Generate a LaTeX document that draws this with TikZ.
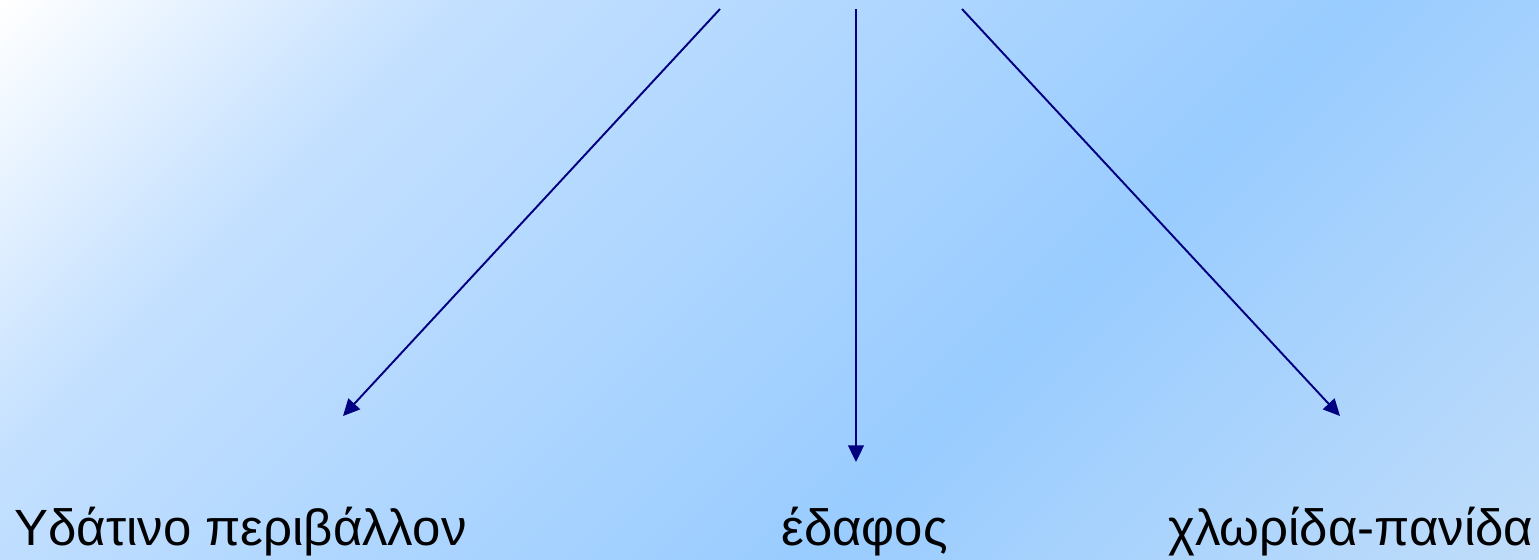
\documentclass[tikz,border=0pt]{standalone}
\usepackage{fontspec}
\setmainfont{Liberation Sans}
\usepackage{tikz}
\usetikzlibrary{arrows.meta, positioning}

\definecolor{skypale}{RGB}{196,224,255}
\definecolor{skyblue}{RGB}{153,204,255}
\definecolor{skylight}{RGB}{192,221,250}
\definecolor{arrowblue}{RGB}{0,0,128}
\pgfdeclarehorizontalshading{skyshade}{100bp}{color(0bp)=(white); color(14.6bp)=(white); color(25bp)=(skypale); color(46bp)=(skyblue); color(63bp)=(skylight); color(100bp)=(skylight)}

\begin{document}
\begin{tikzpicture}[
        x=0.02cm, y=-0.02cm,
        label/.style={anchor=base west, inner sep=0pt, font=\fontsize{29}{35}\selectfont},
        link/.style={draw=arrowblue, line width=1.1pt, -{Triangle[length=9.5pt, width=9pt]}}
    ]
        % background
        \useasboundingbox (0,0) rectangle (1539,559);
        \begin{scope}
            \clip (0,0) rectangle (1539,559);
            \shade[shading=skyshade, shading angle=-45] (0,0) rectangle (1539,1539);
        \end{scope}

        % labels
        \node[label] (water) at (14,545) {Υδάτινο περιβάλλον};
        \node[label] (soil) at (781,545) {έδαφος};
        \node[label] (biota) at (1168,545) {χλωρίδα-πανίδα};

        % arrow ends
        \coordinate (srcW) at (720,9);
        \coordinate (srcS) at (856,9);
        \coordinate (srcB) at (962,9);
        \coordinate (tipW) at (343,416);
        \coordinate (tipS) at (856,462);
        \coordinate (tipB) at (1340,416);

        \draw[link] (srcW) -- (tipW);
        \draw[link] (srcS) -- (tipS);
        \draw[link] (srcB) -- (tipB);
    \end{tikzpicture}
\end{document}
